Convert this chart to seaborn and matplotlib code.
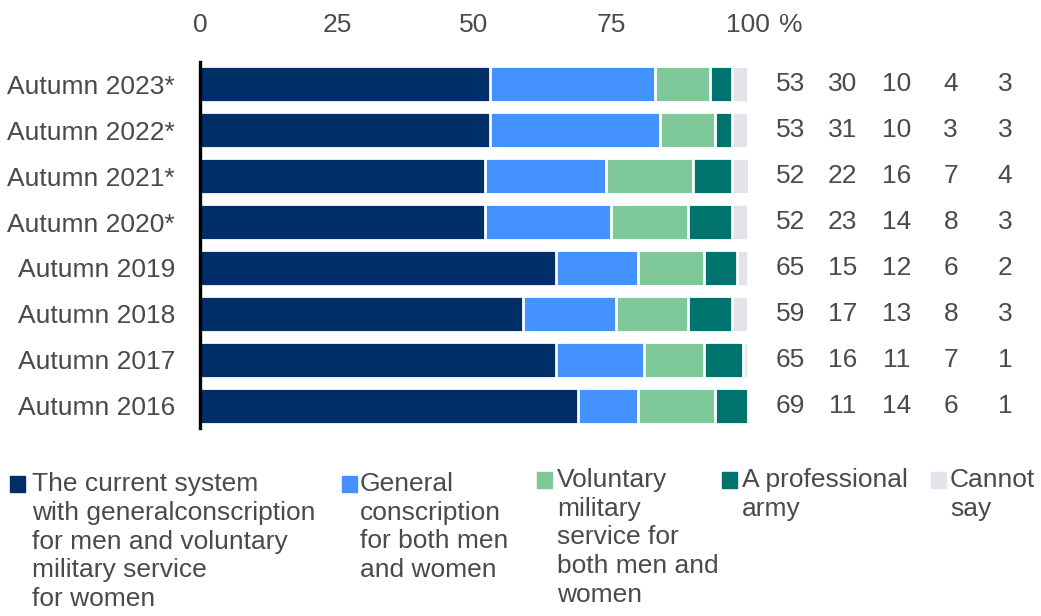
import numpy as np
import pandas as pd
import seaborn as sns
import matplotlib.pyplot as plt
from matplotlib.patches import Rectangle

YEARS = ["Autumn 2023*", "Autumn 2022*", "Autumn 2021*", "Autumn 2020*",
         "Autumn 2019", "Autumn 2018", "Autumn 2017", "Autumn 2016"]
CURRENT_SYSTEM = [53, 53, 52, 52, 65, 59, 65, 69]
GENERAL_BOTH = [30, 31, 22, 23, 15, 17, 16, 11]
VOLUNTARY_BOTH = [10, 10, 16, 14, 12, 13, 11, 14]
PROFESSIONAL = [4, 3, 7, 8, 6, 8, 7, 6]
CANNOT_SAY = [3, 3, 4, 3, 2, 3, 1, 1]

SERIES_LABELS = [
    "The current system\nwith generalconscription\nfor men and voluntary\nmilitary service\nfor women",
    "General\nconscription\nfor both men\nand women",
    "Voluntary\nmilitary\nservice for\nboth men and\nwomen",
    "A professional\narmy",
    "Cannot\nsay",
]
SERIES_COLORS = ["#002f67", "#4492ff", "#7fc899", "#00736e", "#e4e3eb"]
X_TICKS = [0, 25, 50, 75, 100]

TEXT_COLOR = "#4a4a4a"
FONT_SIZE = 19

sns.set_theme(style="white")
plt.rcParams["font.family"] = ["Liberation Sans Narrow", "Liberation Sans", "DejaVu Sans"]


def build_dataframe() -> pd.DataFrame:
    series = [CURRENT_SYSTEM, GENERAL_BOTH, VOLUNTARY_BOTH, PROFESSIONAL, CANNOT_SAY]
    rows = []
    for i, year in enumerate(YEARS):
        running = 0
        for label, values in zip(SERIES_LABELS, series):
            running += values[i]
            rows.append({"Year": year, "Series": label,
                         "Value": values[i], "Cumulative": running})
    return pd.DataFrame(rows)


df = build_dataframe()

W, H = 1041, 616
fig = plt.figure(figsize=(W / 100, H / 100), dpi=100)
ax = fig.add_axes([200 / W, 1 - 428 / H, 548 / W, 366 / H])

# stacked bars: draw cumulative totals from the longest down
for label, color in reversed(list(zip(SERIES_LABELS, SERIES_COLORS))):
    part = df[df["Series"] == label]
    sns.barplot(data=part, x="Cumulative", y="Year", order=YEARS,
                color=color, saturation=1, width=0.8, edgecolor="white",
                linewidth=2.0, errorbar=None, orient="h", ax=ax)

ax.set_xlim(0, 100)
ax.set_ylim(len(YEARS) - 0.52, -0.48)
ax.set_xlabel("")
ax.set_ylabel("")

ax.xaxis.tick_top()
ax.set_xticks(X_TICKS)
ax.set_xticklabels([str(t) for t in X_TICKS])
ax.tick_params(axis="x", length=0, pad=18, labelsize=FONT_SIZE, labelcolor=TEXT_COLOR)
ax.tick_params(axis="y", length=0, pad=18, labelsize=FONT_SIZE, labelcolor=TEXT_COLOR)
ax.text(107.8, 1.0 + 25 / 366, "%", transform=ax.get_xaxis_transform(), ha="center",
        va="bottom", fontsize=FONT_SIZE, color=TEXT_COLOR, clip_on=False)

for side in ["top", "right", "bottom"]:
    ax.spines[side].set_visible(False)
ax.spines["left"].set_color("black")
ax.spines["left"].set_linewidth(2.4)
ax.spines["left"].set_zorder(5)

# value columns on the right
value_columns = [107.8, 117.3, 127.2, 137.0, 146.9]
for i, year in enumerate(YEARS):
    sub = df[df["Year"] == year]
    for xcol, val in zip(value_columns, sub["Value"]):
        ax.text(xcol, i, str(val), ha="center", va="center",
                fontsize=FONT_SIZE, color=TEXT_COLOR, clip_on=False)

# legend below the chart, items top aligned
legend_items = [(10, 476, 32, 485), (342, 476, 360, 485), (537, 472, 557, 481),
                (722, 472, 742, 481), (931, 472, 950, 481)]
for (sx, sy, tx, ty), label, color in zip(legend_items, SERIES_LABELS, SERIES_COLORS):
    fig.add_artist(Rectangle((sx / W, 1 - (sy + 16) / H), 15 / W, 16 / H,
                             transform=fig.transFigure, color=color))
    fig.text(tx / W, 1 - (ty - 13) / H, label, ha="left", va="top",
             fontsize=FONT_SIZE, color=TEXT_COLOR, linespacing=1.25)

fig.savefig("out.png", dpi=100)
